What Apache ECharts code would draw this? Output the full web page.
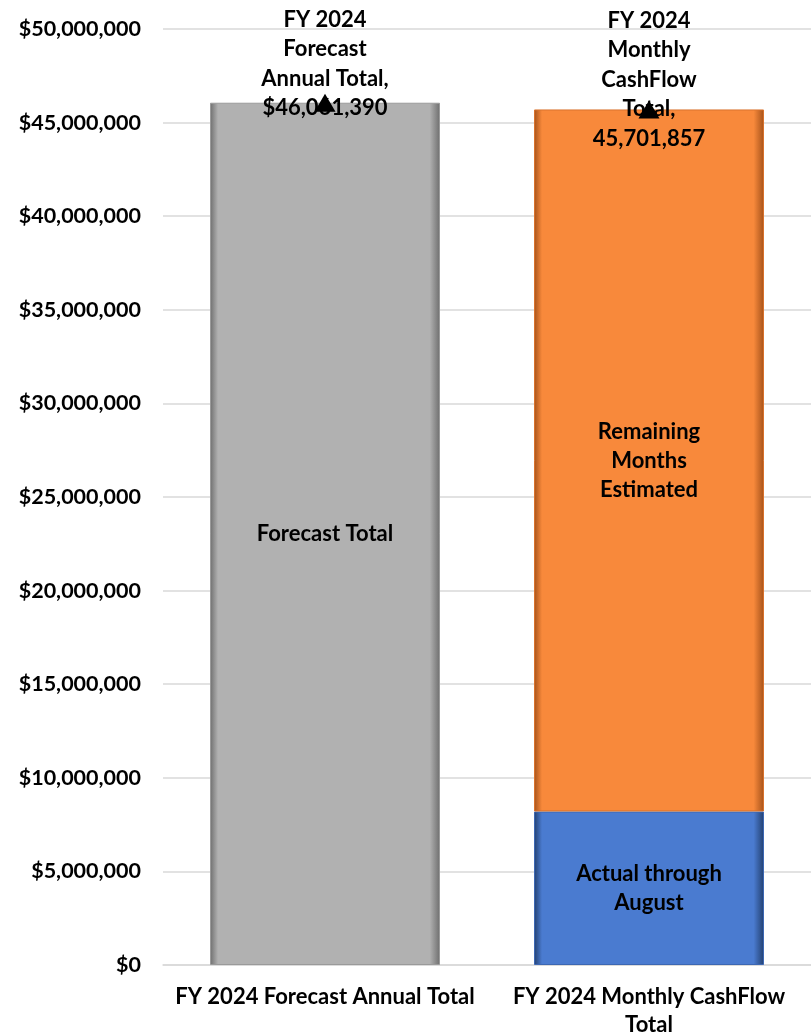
<!DOCTYPE html>
<html>
<head>
<meta charset="utf-8">
<script src="https://cdn.jsdelivr.net/npm/echarts@6/dist/echarts.min.js"></script>
<style>
  html, body { margin: 0; padding: 0; background: #fff; }
  #main { width: 811px; height: 1035px; }
</style>
</head>
<body>
<div id="main"></div>
<script>
// categories and values
var categories = ['FY 2024 Forecast Annual Total', 'FY 2024 Monthly CashFlow\nTotal'];
var forecastTotal = [46061390, '-'];
var actualThroughAugust = ['-', 8200000];
var remainingEstimated = ['-', 37501857];
var totals = [46061390, 45701857];
var totalLabels = ['FY 2024\nForecast\nAnnual Total,\n$46,061,390', 'FY 2024\nMonthly\nCashFlow\nTotal,\n45,701,857'];

var font = 'Lato, "Open Sans", sans-serif';

function bevel(base, dark) {
    return new echarts.graphic.LinearGradient(0, 0, 1, 0, [
        { offset: 0, color: dark },
        { offset: 0.035, color: base },
        { offset: 0.955, color: base },
        { offset: 1, color: dark }
    ]);
}

var chartDom = document.getElementById('main');
var myChart = echarts.init(chartDom);
var option;

var insideLabel = {
    show: true,
    position: 'inside',
    color: '#000',
    fontFamily: font,
    fontWeight: 'bold',
    fontSize: 22,
    lineHeight: 29
};

option = {
    animation: false,
    grid: { left: 163, right: 0, top: 29, bottom: 70, outerBoundsMode: 'none' },
    xAxis: {
        type: 'category',
        data: categories,
        axisLine: { lineStyle: { color: '#d9d9d9', width: 1.5 } },
        axisTick: { show: false },
        axisLabel: {
            interval: 0,
            color: '#000',
            fontFamily: font,
            fontWeight: 'bold',
            fontSize: 22,
            lineHeight: 28,
            margin: 18
        }
    },
    yAxis: {
        type: 'value',
        min: 0,
        max: 50000000,
        interval: 5000000,
        axisLine: { show: false },
        axisTick: { show: false },
        splitLine: { lineStyle: { color: '#d9d9d9', width: 1.5 } },
        axisLabel: {
            color: '#000',
            fontFamily: font,
            fontWeight: 'bold',
            fontSize: 21.5,
            margin: 22,
            formatter: function (v) {
                return '$' + v.toLocaleString('en-US');
            }
        }
    },
    series: [
        {
            name: 'Forecast Total',
            type: 'bar',
            data: forecastTotal,
            barWidth: 230,
            barGap: '-100%',
            itemStyle: { color: bevel('#b1b1b1', '#6e6e6e'), borderColor: '#9a9a9a', borderWidth: 1 },
            label: Object.assign({}, insideLabel, { formatter: 'Forecast Total' })
        },
        {
            name: 'Actual through August',
            type: 'bar',
            stack: 'cash',
            data: actualThroughAugust,
            barWidth: 230,
            barGap: '-100%',
            itemStyle: { color: bevel('#4a7bd0', '#23406f'), borderColor: '#3c67b3', borderWidth: 1 },
            label: Object.assign({}, insideLabel, { formatter: 'Actual through\nAugust' })
        },
        {
            name: 'Remaining Months Estimated',
            type: 'bar',
            stack: 'cash',
            data: remainingEstimated,
            barWidth: 230,
            barGap: '-100%',
            itemStyle: { color: bevel('#f8893b', '#a5521a'), borderColor: '#d9722c', borderWidth: 1 },
            label: Object.assign({}, insideLabel, { formatter: 'Remaining\nMonths\nEstimated' })
        },
        {
            name: 'Total',
            type: 'scatter',
            data: totals,
            symbol: 'triangle',
            symbolSize: [21, 18],
            itemStyle: { color: '#000', opacity: 1 },
            z: 5,
            label: {
                show: true,
                position: 'top',
                distance: 0,
                color: '#000',
                fontFamily: font,
                fontWeight: 'bold',
                fontSize: 22,
                lineHeight: 29.5,
                formatter: function (p) { return totalLabels[p.dataIndex]; }
            },
            labelLayout: function (p) {
                return { dy: p.dataIndex === 0 ? 29 : 53 };
            }
        }
    ]
};
option && myChart.setOption(option);
</script>
</body>
</html>
